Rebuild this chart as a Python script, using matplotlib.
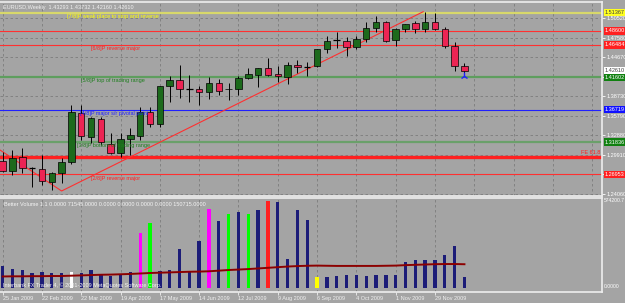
import matplotlib
matplotlib.use("Agg")
import matplotlib.pyplot as plt
from matplotlib.patches import Rectangle
import matplotlib.transforms as mtransforms

plt.rcParams['font.family'] = ['Liberation Sans', 'DejaVu Sans']

# ---------------- data ----------------
opens = [1.2903, 1.2752, 1.2963, 1.2793, 1.2782, 1.2586, 1.2713, 1.2879, 1.3618, 1.3265,
         1.3532, 1.3150, 1.3014, 1.3226, 1.3280, 1.3633, 1.3452, 1.4030, 1.4120, 1.3980,
         1.3980, 1.3944, 1.4079, 1.3980, 1.3980, 1.4146, 1.4196, 1.4297, 1.4206, 1.4170,
         1.4346, 1.4321, 1.4336, 1.4583, 1.4723, 1.4713, 1.4613, 1.4734, 1.4909, 1.4999,
         1.4723, 1.4885, 1.4975, 1.4885, 1.4999, 1.4885, 1.4633, 1.43293]
highs = [1.3034, 1.3064, 1.3094, 1.2815, 1.2989, 1.2737, 1.2944, 1.3743, 1.3743, 1.3560,
         1.3566, 1.3321, 1.3321, 1.3396, 1.3717, 1.3717, 1.4035, 1.4180, 1.4346, 1.4195,
         1.4030, 1.4170, 1.4135, 1.4075, 1.4180, 1.4297, 1.4300, 1.4452, 1.4331, 1.4387,
         1.4422, 1.4396, 1.4588, 1.4784, 1.4840, 1.4764, 1.4784, 1.4999, 1.5085, 1.5014,
         1.4900, 1.4970, 1.5014, 1.5150, 1.5138, 1.4915, 1.4698, 1.43732]
lows = [1.2732, 1.2687, 1.2717, 1.2511, 1.2536, 1.2457, 1.2567, 1.2853, 1.3215, 1.3170,
        1.3140, 1.3010, 1.2963, 1.2989, 1.3215, 1.3416, 1.3416, 1.3793, 1.3844, 1.3793,
        1.3743, 1.3829, 1.3894, 1.3818, 1.3894, 1.4131, 1.4010, 1.4180, 1.4094, 1.4055,
        1.4221, 1.4180, 1.4321, 1.4523, 1.4607, 1.4482, 1.4588, 1.4698, 1.4849, 1.4698,
        1.4633, 1.4849, 1.4824, 1.4849, 1.4874, 1.4598, 1.4260, 1.42160]
closes = [1.2752, 1.2948, 1.2788, 1.2790, 1.2597, 1.2713, 1.2879, 1.3633, 1.3280, 1.3542,
          1.3180, 1.3014, 1.3226, 1.3291, 1.3642, 1.3452, 1.4030, 1.4120, 1.3980, 1.3983,
          1.3944, 1.4079, 1.3959, 1.3987, 1.4146, 1.4211, 1.4297, 1.4196, 1.4180, 1.4346,
          1.4321, 1.4324, 1.4583, 1.4713, 1.4720, 1.4613, 1.4734, 1.4909, 1.4999, 1.4713,
          1.4885, 1.4965, 1.4885, 1.4999, 1.4885, 1.4633, 1.4331, 1.42610]

volumes = [140000, 119000, 115000, 96000, 104000, 96000, 96000, 104000, 96000, 115000,
           89000, 78500, 89000, 100000, 349000, 413000, 108500, 115000, 249000, 110000,
           295000, 504000, 427000, 470000, 485000, 470000, 498000, 551000, 544000, 183000,
           498000, 434000, 72000, 72000, 77000, 81000, 81000, 77000, 81000, 85000,
           81000, 166000, 179000, 179000, 179000, 211000, 268000, 71545]
vol_colors = ['n'] * 48
vol_colors[7] = 'w'
vol_colors[14] = 'm'
vol_colors[15] = 'g'
vol_colors[21] = 'm'
vol_colors[23] = 'g'
vol_colors[25] = 'g'
vol_colors[27] = 'r'
vol_colors[32] = 'y'
vol_ma = [73000, 74000, 74000, 75000, 75000, 76000, 76000, 78000, 80000, 82000,
          84000, 85000, 87000, 89000, 92000, 95000, 97000, 99000, 101000, 103000,
          104000, 106000, 110000, 114000, 117000, 120000, 124000, 128000, 132000, 136000,
          139000, 141000, 142000, 141000, 140000, 140000, 140000, 140000, 140000, 141000,
          142000, 145000, 147000, 149000, 151000, 152000, 152000, 150715]

date_labels = ["25 Jan 2009", "22 Feb 2009", "22 Mar 2009", "19 Apr 2009", "17 May 2009",
               "14 Jun 2009", "12 Jul 2009", "9 Aug 2009", "6 Sep 2009", "4 Oct 2009",
               "1 Nov 2009", "29 Nov 2009"]

price_ticks = [1.24060, 1.26990, 1.29910, 1.32880, 1.35790, 1.38730, 1.41700, 1.44670,
               1.47580, 1.50520]

# Murrey math / manual levels
levels = [1.51367, 1.48600, 1.46484, 1.41602, 1.36719, 1.31836, 1.29600, 1.26953]
level_names = ["[7/8]P weak place to stop and reverse", None, "[6/8]P reverse major",
               "[5/8]P top of trading range", "[4/8]P major s/r pivotal point",
               "[3/8]P bottom of trading range", None, "[2/8]P reverse major"]
level_label_x = [6.55, None, 9.0, 8.0, 7.9, 7.6, None, 9.0]

trend_x = [-0.27, 6.0, 42.8]
trend_y = [1.3064, 1.2446, 1.5150]

# ---------------- figure ----------------
BG = '#a4a4a4'
W, H = 625, 303
fig = plt.figure(figsize=(W / 100, H / 100), dpi=100, facecolor=BG)
ax = fig.add_axes([0, (H - 196) / H, 602 / W, 194 / H], facecolor=BG)
axv = fig.add_axes([0, (H - 291.5) / H, 602 / W, 94 / H], facecolor=BG)

xmin, xmax = -0.27, 61.0
for a in (ax, axv):
    a.set_xlim(xmin, xmax)
    for s in a.spines.values():
        s.set_color('#eeeeee')
        s.set_linewidth(1.2)
    a.spines['left'].set_visible(False)
    a.set_xticks(range(0, 61, 4))
    a.grid(True, axis='x', color='#7c7c7c', linestyle=(0, (3, 3)), linewidth=0.6)
    a.set_axisbelow(True)

ax.set_ylim(1.23704, 1.52965)
ax.yaxis.tick_right()
ax.set_yticks(price_ticks)
ax.set_yticklabels([f"{v:.5f}" for v in price_ticks])
ax.tick_params(axis='y', colors='white', labelsize=4, length=2, pad=1, width=0.6)
ax.tick_params(axis='x', length=0, labelbottom=False)
ax.grid(True, axis='y', color='#7c7c7c', linestyle=(0, (3, 3)), linewidth=0.6)

# levels
lvl_style = [('#d8d86a', 1.6), ('#ff3030', 0.8), ('#ff3030', 0.8), ('#5e9e5e', 1.6),
             ('#2020ff', 0.8), ('#6aa06a', 1.6), ('#ff2020', 2.4), ('#ff3030', 0.8)]
txt_col = ['#ffff00', None, '#ff2020', '#1e7e1e', '#2020ff', '#1e7e1e', None, '#ff2020']
px = (1.52965 - 1.23704) / 194.0
for lv, nm, lx, (c, lw), tc in zip(levels, level_names, level_label_x, lvl_style, txt_col):
    ax.axhline(lv, color=c, lw=lw, zorder=2)
    if nm:
        ax.text(lx, lv - 3.6 * px, nm, color=tc, fontsize=4, va='center', ha='left', zorder=6)
ax.text(60.8, levels[6] + 4 * px, "FE 61.8", color='#ff2020', fontsize=4, ha='right',
        va='center', zorder=6)

# trend line
ax.plot(trend_x, trend_y, color='#ff3030', lw=0.8, zorder=3)

# candles
bw = 0.66
for i, (o, h, l, c) in enumerate(zip(opens, highs, lows, closes)):
    ax.vlines(i, l, h, color='black', lw=0.7, zorder=4)
    if abs(c - o) < 0.0006:
        ax.hlines((o + c) / 2, i - bw / 2, i + bw / 2, color='black', lw=0.9, zorder=5)
        continue
    fc = '#1c6a1c' if c > o else '#ec2454'
    ax.add_patch(Rectangle((i - bw / 2, min(o, c)), bw, abs(c - o), facecolor=fc,
                           edgecolor='black', lw=0.5, zorder=5))
ax.plot([47], [lows[47] - 2 * px], marker='2', color='#2020ff', markersize=6, mew=1.0,
        zorder=6)

# right-side highlighted price boxes
trans = mtransforms.blended_transform_factory(ax.transAxes, ax.transData)
boxes = [(levels[0], '#ffff20', '#404040'), (levels[1], '#ff2020', 'white'),
         (levels[2], '#ff2020', 'white'), (closes[-1], 'white', '#404040'),
         (levels[3], '#108010', 'white'), (levels[4], '#1010ff', 'white'),
         (levels[5], '#108010', 'white'), (levels[7], '#ff2020', 'white')]
for v, bc, tcol in boxes:
    ax.text(1.005, v, f"{v:.5f}", transform=trans, fontsize=4, color=tcol, va='center',
            ha='left', clip_on=False, zorder=10,
            bbox=dict(boxstyle='square,pad=0.2', fc=bc, ec='none'))

ax.text(0.005, 0.985, "EURUSD,Weekly  1.43293 1.43732 1.42160 1.42610", transform=ax.transAxes,
        fontsize=4, color='#f0f0f0', va='top', ha='left')

# ---------------- volume ----------------
cmap = {'n': '#1c1c78', 'w': '#ffffff', 'm': '#ff00ff', 'g': '#00ff00', 'r': '#ff2020',
        'y': '#ffff00'}
vmax = 574200.7
axv.set_ylim(-22330, vmax)
axv.bar(range(48), volumes, width=0.34, color=[cmap[k] for k in vol_colors], zorder=3)
axv.plot(range(48), vol_ma, color='#8c0000', lw=1.4, zorder=4)
axv.set_yticks([])
axv.set_xticks(range(0, 45, 4))
axv.set_xticklabels(date_labels, ha='left')
axv.tick_params(axis='x', colors='#f0f0f0', labelsize=4, length=2, pad=1.5, width=0.6)
axv.text(0.007, 0.95, "Better Volume 1.1 0.0000 71545.0000 0.0000 0.0000 0.0000 0.0000 150715.0000",
         transform=axv.transAxes, fontsize=4, color='#f4f4f4', va='top', ha='left')
axv.text(0.005, 0.04, "Interbank FX Trader 4, \u00a9 2001-2009 MetaQuotes Software Corp.",
         transform=axv.transAxes, fontsize=4, color='#f4f4f4', va='bottom', ha='left', zorder=6)
axv.text(1.003, 0.97, "574200.7", transform=axv.transAxes, fontsize=3.6, color='white',
         va='center', ha='left', clip_on=False)
axv.text(1.003, 0.05, "0.0000", transform=axv.transAxes, fontsize=3.6, color='white',
         va='center', ha='left', clip_on=False)

fig.savefig("out.png", dpi=100, facecolor=BG)
